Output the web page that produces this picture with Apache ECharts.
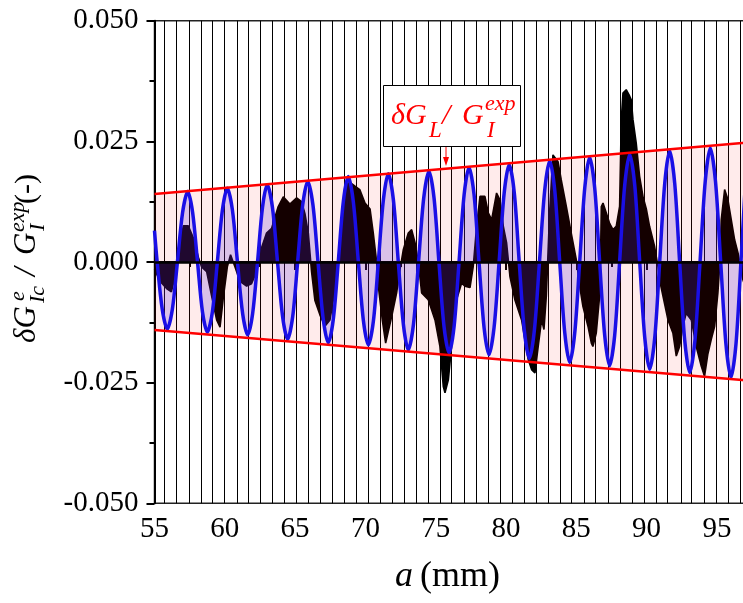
<!DOCTYPE html>
<html>
<head>
<meta charset="utf-8">
<script src="https://cdn.jsdelivr.net/npm/echarts@6/dist/echarts.min.js"></script>
<style>
  html, body { margin: 0; padding: 0; background: #fff; overflow: hidden; }
  /* plot frame runs past the right edge of the page, as in the cropped figure */
  #chart { width: 800px; height: 603px; }
</style>
</head>
<body>
<div id="chart"></div>
<script>
// Crack-position markers (mm)
const markerA = [55.68, 56.55, 57.45, 58.31, 59.14, 59.96, 60.85, 61.67, 62.55, 63.41,
  64.26, 65.06, 65.94, 66.77, 67.65, 68.50, 69.33, 70.21, 71.04, 71.91, 72.75, 73.60,
  74.47, 75.31, 76.14, 77.02, 77.85, 78.74, 79.57, 80.48, 81.28, 82.18, 82.97, 83.89,
  84.67, 85.57, 86.38, 87.28, 88.11, 88.98, 89.81, 90.72, 91.50, 92.43, 93.21, 94.10,
  94.94, 95.81, 96.64];

// Envelope  ±δG_L / G_I^exp
const envA = [55, 97];
const envUpper = [0.0141, 0.0247];
const envLower = [-0.0141, -0.0245];

// Model oscillation δG_Ic^e / G_I^exp
const fitA = [55.00, 55.19, 55.55, 55.91, 56.27, 56.63, 57.00, 57.36, 57.71, 58.06,
  58.41, 58.76, 59.12, 59.47, 59.83, 60.18, 60.54, 60.90, 61.27, 61.63, 61.98, 62.33,
  62.68, 63.02, 63.39, 63.75, 64.11, 64.47, 64.83, 65.18, 65.54, 65.90, 66.27, 66.63,
  67.00, 67.36, 67.72, 68.07, 68.43, 68.78, 69.14, 69.50, 69.86, 70.21, 70.57, 70.92,
  71.28, 71.63, 71.99, 72.34, 72.70, 73.05, 73.42, 73.78, 74.15, 74.52, 74.88, 75.23,
  75.59, 75.95, 76.31, 76.66, 77.02, 77.37, 77.73, 78.08, 78.44, 78.79, 79.15, 79.51,
  79.87, 80.23, 80.59, 80.94, 81.30, 81.66, 82.02, 82.38, 82.75, 83.11, 83.47, 83.82,
  84.18, 84.53, 84.89, 85.24, 85.60, 85.95, 86.31, 86.66, 87.02, 87.37, 87.73, 88.08,
  88.44, 88.80, 89.16, 89.51, 89.87, 90.22, 90.58, 90.93, 91.29, 91.64, 92.00, 92.35,
  92.71, 93.07, 93.44, 93.80, 94.17, 94.53, 94.90, 95.27, 95.64, 96.00, 96.36, 96.71,
  97.00];
const fitVal = [0.0065, 0, -0.0098, -0.0139, -0.0098, 0, 0.0103, 0.0146, 0.0103, 0,
  -0.0103, -0.0145, -0.0103, 0, 0.0108, 0.0153, 0.0108, 0, -0.0107, -0.0151, -0.0107, 0,
  0.0113, 0.0160, 0.0113, 0, -0.0113, -0.0160, -0.0113, 0, 0.0118, 0.0167, 0.0118, 0,
  -0.0118, -0.0167, -0.0118, 0, 0.0125, 0.0177, 0.0125, 0, -0.0122, -0.0172, -0.0122, 0,
  0.0129, 0.0183, 0.0129, 0, -0.0129, -0.0182, -0.0129, 0, 0.0133, 0.0188, 0.0133, 0,
  -0.0133, -0.0188, -0.0133, 0, 0.0139, 0.0196, 0.0139, 0, -0.0136, -0.0192, -0.0136, 0,
  0.0143, 0.0202, 0.0143, 0, -0.0141, -0.0200, -0.0141, 0, 0.0148, 0.0210, 0.0148, 0,
  -0.0147, -0.0208, -0.0147, 0, 0.0153, 0.0217, 0.0153, 0, -0.0152, -0.0215, -0.0152, 0,
  0.0158, 0.0223, 0.0158, 0, -0.0157, -0.0222, -0.0157, 0, 0.0163, 0.0230, 0.0163, 0,
  -0.0162, -0.0229, -0.0162, 0, 0.0167, 0.0236, 0.0167, 0, -0.0169, -0.0239, -0.0169, 0,
  0.0150];

// Measured δG_Ic^e / G_I^exp
const expA = [55.00, 55.39, 55.86, 56.20, 56.46, 56.70, 57.05, 57.40, 57.76, 58.12,
  58.35, 58.71, 59.06, 59.42, 59.66, 59.89, 60.18, 60.41, 60.72, 61.08, 61.55, 61.90,
  62.26, 62.62, 62.97, 63.33, 63.80, 64.16, 64.63, 65.11, 65.46, 65.70, 65.94, 66.17,
  66.41, 66.77, 67.12, 67.48, 67.83, 68.19, 68.55, 68.90, 69.26, 69.60, 69.97, 70.33,
  70.56, 70.80, 70.92, 71.20, 71.44, 71.87, 72.22, 72.46, 72.70, 73.05, 73.29, 73.53,
  73.76, 74.00, 74.47, 74.95, 75.30, 75.54, 75.66, 75.90, 76.13, 76.49, 76.84, 77.08,
  77.44, 77.67, 77.91, 78.15, 78.50, 78.74, 78.98, 79.33, 79.57, 79.81, 80.04, 80.28,
  80.63, 81.11, 81.58, 81.82, 82.06, 82.29, 82.53, 82.70, 82.87, 83.10, 83.34, 83.46,
  83.70, 83.93, 84.29, 84.64, 85.00, 85.24, 85.47, 85.83, 86.07, 86.18, 86.42, 86.66,
  86.72, 86.78, 86.90, 87.13, 87.37, 87.61, 87.84, 88.08, 88.20, 88.32, 88.55, 88.79,
  88.91, 89.03, 89.26, 89.50, 89.74, 89.98, 90.21, 90.57, 90.81, 90.92, 91.16, 91.52,
  91.87, 92.11, 92.35, 92.58, 92.82, 93.18, 93.53, 93.89, 94.12, 94.36, 94.60, 94.84,
  95.07, 95.19, 95.31, 95.55, 95.78, 96.02, 96.26, 96.50, 96.85, 97.00];
const expVal = [-0.0015, -0.0040, -0.0055, -0.0062, -0.0030, 0.0020, 0.0075, 0.0075, 0.0050, 0.0010,
  -0.0010, -0.0020, -0.0070, -0.0120, -0.0135, -0.0075, -0.0010, 0.0015, -0.0010, -0.0040, -0.0050, -0.0045,
  -0.0020, 0.0030, 0.0060, 0.0070, 0.0115, 0.0135, 0.0120, 0.0133, 0.0125, 0.0100, 0.0060, -0.0020,
  -0.0080, -0.0110, -0.0133, -0.0120, -0.0060, 0.0040, 0.0160, 0.0165, 0.0157, 0.0150, 0.0122, 0.0110,
  0.0060, 0.0000, -0.0050, -0.0120, -0.0168, -0.0113, -0.0064, -0.0016, 0.0026, 0.0060, 0.0067, 0.0040,
  0.0000, -0.0064, -0.0078, -0.0120, -0.0175, -0.0258, -0.0271, -0.0244, -0.0175, -0.0078, -0.0044, -0.0050,
  -0.0053, -0.0009, 0.0074, 0.0136, 0.0136, 0.0102, 0.0088, 0.0143, 0.0129, 0.0074, 0.0040, -0.0030,
  -0.0078, -0.0120, -0.0202, -0.0223, -0.0230, -0.0175, -0.0120, -0.0140, -0.0070, 0.0102, 0.0222, 0.0222,
  0.0208, 0.0170, 0.0115, 0.0060, 0.0005, -0.0050, -0.0092, -0.0133, -0.0168, -0.0175, -0.0147, -0.0070,
  0.0000, 0.0115, 0.0122, 0.0102, 0.0080, 0.0067, 0.0074, 0.0115, 0.0295, 0.0350, 0.0357, 0.0344,
  0.0336, 0.0295, 0.0247, 0.0178, 0.0136, 0.0110, 0.0074, 0.0032, -0.0010, -0.0037, -0.0070, -0.0120,
  -0.0147, -0.0195, -0.0175, -0.0133, -0.0106, -0.0120, -0.0175, -0.0216, -0.0237, -0.0190, -0.0160, -0.0133,
  -0.0064, -0.0010, 0.0088, 0.0150, 0.0130, 0.0088, 0.0046, 0.0019, -0.0037, -0.0050];

const zip = (xs, ys) => xs.map((x, i) => [x, ys[i]]);

const SERIF = '"Liberation Serif", "Times New Roman", serif';
const RED = '#ff0000';
const BLUE = '#1a0fe6';

function txt(x, y, text, size, color, italic) {
  return {
    type: 'text', x: x, y: y, silent: true,
    style: {
      text: text,
      font: (italic ? 'italic ' : '') + size + 'px ' + SERIF,
      fill: color, align: 'left', verticalAlign: 'middle'
    }
  };
}

const chart = echarts.init(document.getElementById('chart'), null, { renderer: 'canvas' });

chart.setOption({
  animation: false,
  backgroundColor: '#fff',
  grid: {
    left: 154.5, top: 20.7, width: 632.7, height: 482.6,
    show: true, borderColor: '#222', borderWidth: 1.5
  },
  xAxis: {
    type: 'value', min: 55, max: 100, interval: 5,
    axisLine: { lineStyle: { color: '#000', width: 2 } },
    axisTick: { length: 8, lineStyle: { color: '#000', width: 2 } },
    minorTick: { show: true, splitNumber: 2, length: 5, lineStyle: { color: '#000', width: 2 } },
    splitLine: { show: false },
    axisLabel: { margin: 12, color: '#000', fontSize: 29, fontFamily: SERIF, showMaxLabel: false }
  },
  yAxis: {
    type: 'value', min: -0.05, max: 0.05, interval: 0.025,
    axisLine: { onZero: false, lineStyle: { color: '#000', width: 2 } },
    axisTick: { length: 8, lineStyle: { color: '#000', width: 2 } },
    minorTick: { show: true, splitNumber: 2, length: 5, lineStyle: { color: '#000', width: 2 } },
    splitLine: { show: false },
    axisLabel: {
      margin: 16, color: '#000', fontSize: 29, fontFamily: SERIF,
      formatter: v => v.toFixed(3)
    }
  },
  series: [
    {
      // vertical crack-position markers
      type: 'line', data: [], silent: true,
      markLine: {
        z: 1, silent: true, symbol: 'none', animation: false,
        label: { show: false },
        lineStyle: { color: '#000', width: 1, type: 'solid' },
        emphasis: { disabled: true },
        data: markerA.map(v => ({ xAxis: v }))
      }
    },
    {
      // measured signal, filled to zero
      type: 'line', z: 2, silent: true, showSymbol: false, symbol: 'none',
      data: zip(expA, expVal),
      lineStyle: { color: '#000', width: 1.6 },
      areaStyle: { color: '#000', opacity: 1 }
    },
    {
      type: 'line', z: 3, silent: true, showSymbol: false, symbol: 'none',
      data: zip(envA, envUpper),
      lineStyle: { width: 0 },
      areaStyle: { color: 'rgba(255,0,0,0.11)' }
    },
    {
      type: 'line', z: 3, silent: true, showSymbol: false, symbol: 'none',
      data: zip(envA, envLower),
      lineStyle: { width: 0 },
      areaStyle: { color: 'rgba(255,0,0,0.11)' }
    },
    {
      // model oscillation
      type: 'line', z: 4, silent: true, showSymbol: false, symbol: 'none',
      smooth: 0.3,
      data: zip(fitA, fitVal),
      lineStyle: { color: BLUE, width: 3.5 },
      areaStyle: { color: 'rgba(80,40,220,0.3)' }
    },
    {
      type: 'line', z: 5, silent: true, showSymbol: false, symbol: 'none',
      data: zip(envA, envUpper),
      lineStyle: { color: RED, width: 2.5 }
    },
    {
      type: 'line', z: 5, silent: true, showSymbol: false, symbol: 'none',
      data: zip(envA, envLower),
      lineStyle: { color: RED, width: 2.5 },
      markLine: {
        z: 6, silent: true, symbol: 'none', animation: false,
        label: { show: false },
        lineStyle: { color: '#000', width: 2.5, type: 'solid' },
        emphasis: { disabled: true },
        data: [{ yAxis: 0 }]
      }
    }
  ],
  graphic: {
    elements: [
      // envelope annotation
      {
        type: 'rect', silent: true, z: 100,
        shape: { x: 383.5, y: 85.5, width: 137, height: 61 },
        style: { fill: '#fff', stroke: '#000', lineWidth: 1 }
      },
      {
        type: 'line', silent: true, z: 100,
        shape: { x1: 446, y1: 147, x2: 446, y2: 158 },
        style: { stroke: RED, lineWidth: 1 }
      },
      {
        type: 'polygon', silent: true, z: 100,
        shape: { points: [[443, 157], [449, 157], [446, 166]] },
        style: { fill: RED }
      },
      Object.assign(txt(391, 116, 'δG', 30, RED, true), { z: 101 }),
      Object.assign(txt(429, 131, 'L', 23, RED, true), { z: 101 }),
      Object.assign(txt(442, 116, '/', 30, RED, true), { z: 101 }),
      Object.assign(txt(462, 116, 'G', 30, RED, true), { z: 101 }),
      Object.assign(txt(485, 104, 'exp', 22, RED, true), { z: 101 }),
      Object.assign(txt(487, 131, 'I', 23, RED, true), { z: 101 }),
      // x-axis title
      txt(395, 577, 'a', 36, '#000', true),
      txt(420, 577, '(mm)', 36, '#000', false),
      // y-axis title, reading upward
      {
        type: 'group', x: 37, y: 343, rotation: Math.PI / 2,
        children: [
          txt(0, -10, 'δG', 31, '#000', true),
          txt(42, -19, 'e', 22, '#000', true),
          txt(40, 1, 'Ic', 22, '#000', true),
          txt(67, -10, '/', 31, '#000', true),
          txt(88, -10, 'G', 31, '#000', true),
          txt(111, -19, 'exp', 22, '#000', true),
          txt(112, 1, 'I', 22, '#000', true),
          txt(139, -10, '(-)', 30, '#000', false)
        ]
      }
    ]
  }
});
</script>
</body>
</html>
